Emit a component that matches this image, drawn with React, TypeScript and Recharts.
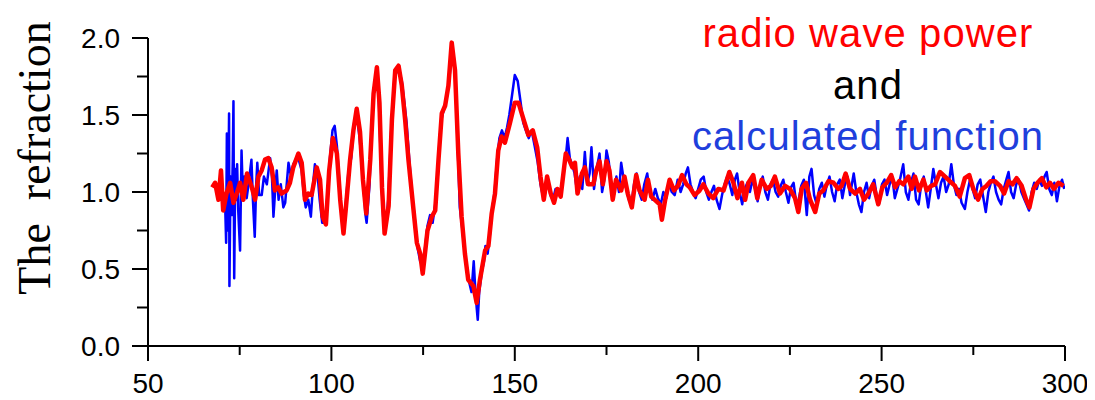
import React from 'react';
import { LineChart, Line, XAxis, YAxis } from 'recharts';

// radio wave power (red)
const redX = [67.5,68.3,69.2,69.9,70.5,71.4,72.4,73.3,74.2,75.1,76.0,77.0,78.3,79.2,80.1,81.0,81.9,82.8,83.7,84.6,85.5,86.4,87.8,88.7,89.6,91.0,91.9,92.8,93.7,94.6,96.0,96.9,97.6,98.5,99.4,100.4,101.5,102.4,103.3,104.0,105.1,106.0,106.9,107.8,108.6,109.5,110.6,111.5,112.4,113.1,113.8,114.5,115.6,116.5,117.4,118.3,119.2,120.1,121.0,122.4,123.3,124.2,124.9,125.6,126.2,127.4,128.3,129.2,130.1,131.0,131.9,132.8,133.7,134.6,135.5,136.4,137.3,138.7,139.6,140.5,141.9,142.8,143.7,144.6,145.5,146.4,147.3,148.7,150.0,151.0,152.4,153.7,154.9,156.1,157.0,157.9,158.8,159.8,160.7,161.6,162.5,163.9,164.8,165.7,166.4,167.1,168.3,169.1,170.0,171.4,172.2,173.1,174.0,175.0,175.8,176.7,177.6,179.0,179.9,180.8,181.9,183.1,184.0,185.4,186.3,187.2,188.1,189.5,190.1,191.0,192.2,193.4,194.5,195.6,196.8,197.7,199.0,200.4,201.4,202.8,204.1,205.5,206.9,208.5,209.6,210.7,211.9,212.8,213.7,215.0,216.1,217.3,218.7,219.8,220.9,222.3,223.7,225.0,226.4,227.3,228.2,229.4,230.5,231.9,233.0,234.1,235.5,236.9,238.2,239.1,240.2,241.4,242.8,244.1,245.2,246.4,247.7,249.1,250.2,251.4,252.6,253.7,254.8,255.9,257.3,258.2,259.1,260.2,261.4,262.3,263.5,264.6,265.9,267.3,268.6,270.0,271.3,272.7,273.9,275.0,276.3,277.5,278.6,279.7,280.9,282.3,283.4,284.6,285.7,286.8,288.2,289.4,290.3,291.4,292.5,293.7,294.9,295.9,297.0,298.2,299.6];
const redY = [1.03,1.06,0.95,1.14,0.88,0.99,1.06,0.93,0.99,1.06,0.95,1.12,1.03,0.95,1.10,1.14,1.21,1.22,1.16,1.01,1.03,0.99,1.01,1.06,1.16,1.25,1.19,0.95,0.99,0.98,1.16,1.08,0.84,0.79,1.14,1.35,1.25,0.95,0.73,0.91,1.21,1.40,1.54,1.39,1.08,0.86,1.21,1.64,1.81,1.58,1.03,0.73,0.91,1.47,1.79,1.82,1.69,1.47,1.21,0.88,0.67,0.60,0.47,0.62,0.75,0.84,0.88,1.21,1.51,1.56,1.69,1.97,1.79,1.25,0.84,0.60,0.43,0.39,0.28,0.43,0.62,0.65,0.86,0.99,1.27,1.36,1.32,1.45,1.58,1.58,1.47,1.37,1.40,1.29,1.10,0.95,1.10,0.99,0.93,1.02,0.97,1.25,1.21,1.16,1.19,0.99,1.12,1.16,1.05,1.05,1.14,1.20,1.05,1.20,1.14,0.95,1.08,1.01,1.10,0.99,0.90,1.11,1.01,0.95,1.08,0.97,0.95,0.92,0.82,0.95,1.08,1.01,1.04,1.11,1.05,1.03,0.98,1.01,1.05,0.99,0.96,1.02,1.01,1.13,1.06,0.96,1.06,0.95,1.06,1.11,0.96,1.08,1.02,1.04,1.10,0.99,1.04,1.02,0.96,0.87,1.02,1.06,0.95,0.87,0.99,1.01,1.07,1.06,1.02,1.04,1.12,1.02,0.99,1.02,0.95,0.99,1.05,0.92,1.03,1.06,1.11,1.03,1.07,1.05,1.10,1.02,1.10,1.01,1.08,1.01,1.04,1.05,1.13,1.10,1.07,1.04,0.97,1.09,1.11,1.02,0.95,1.02,1.04,1.07,1.07,1.04,0.99,1.07,1.05,1.09,1.04,0.95,0.90,1.02,1.06,1.09,1.03,1.06,1.02,1.06,1.04];

// calculated function (blue)
const blueX = [71.0,71.3,71.5,71.8,72.1,72.2,72.5,72.8,73.1,73.3,73.5,73.8,74.0,74.3,74.6,75.1,75.5,75.9,76.3,76.9,77.4,78.2,78.6,79.1,79.5,79.8,80.3,81.0,81.6,82.4,83.3,83.8,84.2,84.7,85.1,85.6,86.2,86.9,87.4,88.3,89.0,89.6,90.5,91.2,91.9,92.5,93.0,93.7,94.4,95.0,95.5,96.2,96.8,97.5,98.3,99.0,99.6,100.3,100.9,101.5,102.2,102.8,103.3,104.0,104.6,105.4,106.2,106.9,107.7,108.2,108.7,109.3,109.6,110.4,111.2,111.8,112.4,113.0,113.6,114.2,114.7,115.5,116.3,117.2,118.3,119.2,119.9,120.5,121.2,122.0,122.6,123.4,124.2,124.9,125.6,126.2,126.9,127.6,128.3,129.0,129.5,130.1,130.8,131.5,132.2,132.8,133.3,133.8,134.5,135.0,135.6,136.3,137.0,137.5,138.2,138.8,139.2,139.6,139.9,140.3,141.0,141.6,142.0,142.6,143.2,143.9,144.5,145.2,145.8,146.5,147.2,147.9,148.5,149.2,150.0,150.8,151.6,152.3,153.0,153.8,154.6,155.4,156.2,157.0,157.6,158.3,159.0,159.7,160.4,161.1,161.8,162.5,163.2,163.8,164.4,165.0,165.6,166.3,167.0,167.7,168.4,169.1,169.7,170.4,170.9,171.6,172.3,173.1,173.8,174.4,175.0,175.6,176.3,177.0,177.7,178.4,179.0,179.7,180.4,181.1,181.8,182.5,183.2,183.9,184.6,185.3,186.1,186.8,187.5,188.3,189.0,189.8,190.5,191.3,192.0,192.8,193.6,194.4,195.2,195.9,196.6,197.2,197.9,198.6,199.3,200.0,200.7,201.5,202.2,202.9,203.6,204.3,205.0,205.8,206.5,207.2,207.9,208.6,209.3,210.0,210.6,211.3,212.0,212.7,213.4,214.1,214.8,215.5,216.2,216.9,217.6,218.3,219.0,219.7,220.4,221.1,221.8,222.5,223.2,223.9,224.6,225.3,226.0,226.7,227.4,228.1,228.8,229.6,230.3,230.9,231.6,232.3,233.0,233.7,234.4,235.1,235.8,236.5,237.2,237.9,238.6,239.3,240.0,240.7,241.4,242.4,243.1,243.8,244.5,245.2,245.9,246.6,247.3,248.0,248.7,249.4,250.1,250.8,251.5,252.2,252.9,253.6,254.3,255.0,255.9,256.6,257.3,258.0,258.7,259.4,260.1,260.8,261.5,262.2,262.7,263.4,264.1,264.8,265.5,266.2,266.9,267.6,268.3,269.0,269.7,270.4,271.1,271.8,272.7,273.4,274.1,274.8,275.5,276.2,276.9,277.6,278.4,279.1,279.8,280.5,281.2,281.9,282.6,283.3,284.0,284.6,285.3,286.0,286.7,287.4,288.1,288.8,289.5,290.2,290.9,291.6,292.3,293.0,293.7,294.4,295.0,295.7,296.4,297.1,297.8,298.5,299.2,299.8];
const blueY = [0.95,0.67,1.38,0.75,1.51,0.39,1.10,0.85,1.20,1.59,0.44,1.15,0.95,1.18,0.88,0.62,1.27,0.95,1.10,0.96,1.05,1.21,0.95,0.71,1.05,1.19,0.98,0.98,1.10,1.05,1.22,1.10,0.84,1.02,1.14,0.95,1.05,0.90,0.93,1.19,1.10,1.18,1.22,1.20,1.14,0.98,0.90,0.95,0.84,1.05,1.18,1.12,0.95,0.80,0.80,1.00,1.22,1.40,1.43,1.30,1.05,0.85,0.76,0.95,1.12,1.22,1.45,1.50,1.35,1.20,1.05,0.85,0.80,1.05,1.55,1.72,1.78,1.55,1.10,0.80,0.75,0.95,1.40,1.75,1.80,1.72,1.58,1.45,1.22,0.98,0.86,0.65,0.55,0.52,0.65,0.78,0.85,0.80,0.92,1.10,1.35,1.48,1.55,1.62,1.75,1.88,1.90,1.72,1.25,0.90,0.78,0.62,0.50,0.42,0.35,0.55,0.38,0.25,0.17,0.35,0.48,0.55,0.65,0.60,0.72,0.90,1.00,1.22,1.35,1.40,1.35,1.42,1.50,1.62,1.76,1.72,1.58,1.45,1.40,1.35,1.40,1.30,1.20,1.05,0.98,1.05,1.08,0.98,0.95,1.02,1.00,0.98,1.12,1.20,1.35,1.22,1.18,1.12,1.00,1.10,1.02,1.26,1.05,1.12,1.29,1.02,1.15,1.25,1.00,1.08,1.27,1.20,1.05,0.98,1.10,1.00,1.19,1.08,1.02,0.95,0.92,1.05,1.12,1.00,0.95,1.05,1.12,1.00,0.95,1.02,0.96,0.92,1.00,0.96,1.06,1.00,0.98,1.08,1.00,1.05,1.12,1.16,1.05,1.00,0.96,1.02,1.08,1.10,1.00,0.95,1.00,1.04,0.95,0.89,0.98,1.05,1.10,1.05,0.98,1.08,1.12,1.00,0.92,1.02,1.06,1.00,1.08,1.02,0.94,1.05,1.10,1.00,0.95,1.05,1.08,1.00,0.97,1.04,1.08,1.00,0.93,1.03,1.06,0.93,0.95,1.04,1.08,0.85,1.10,1.15,0.98,0.92,1.02,1.06,0.97,1.05,1.10,1.00,0.94,1.05,1.08,0.96,1.05,1.10,0.98,1.12,1.00,0.92,0.87,1.00,1.06,0.96,1.04,1.08,0.97,0.93,1.05,1.08,0.98,1.05,1.10,0.96,1.02,1.08,1.18,1.00,0.95,1.06,1.12,0.95,0.92,1.05,1.10,0.98,0.90,1.02,1.15,1.05,0.96,1.06,1.10,1.00,1.05,1.18,1.05,0.98,1.02,0.93,0.89,1.00,1.08,1.02,0.96,1.05,1.08,0.98,0.87,1.00,1.06,1.10,1.00,0.95,0.92,1.02,1.08,1.13,1.00,0.96,1.05,1.08,1.00,0.96,0.92,0.88,1.00,1.06,1.02,1.08,1.04,1.10,1.13,1.02,0.98,1.06,0.94,1.04,1.08,1.02];

const xTicks = [50, 75, 100, 125, 150, 175, 200, 225, 250, 275, 300];
const xMajor = [50, 100, 150, 200, 250, 300];
const yTicks = [0, 0.25, 0.5, 0.75, 1.0, 1.25, 1.5, 1.75, 2.0];
const yMajor = [0, 0.5, 1.0, 1.5, 2.0];

const legendLines = ['radio wave power', 'and', 'calculated function'];
const legendColors = ['#ff0000', '#000000', '#1f3fdc'];
const yLabel = 'The\u00a0\u00a0refraction';

const redData = redX.map((x, i) => ({ x, y: redY[i] }));
const blueData = blueX.map((x, i) => ({ x, y: blueY[i] }));

const sans = 'Arial, "Liberation Sans", Helvetica, sans-serif';
const serif = '"Times New Roman", "Liberation Serif", serif';

const XTick = (props: any) => {
  const { x, y, payload } = props;
  const major = xMajor.includes(payload.value);
  return (
    <g>
      <line x1={x} x2={x} y1={y} y2={y + (major ? 15 : 9)} stroke="#000" strokeWidth={2} />
      {major && (
        <text x={x} y={y + 47} textAnchor="middle" fontSize={28} fontFamily={sans} fill="#000">
          {payload.value}
        </text>
      )}
    </g>
  );
};

const YTick = (props: any) => {
  const { x, y, payload } = props;
  const major = yMajor.includes(payload.value);
  return (
    <g>
      <line x1={x - (major ? 16 : 11)} x2={x} y1={y} y2={y} stroke="#000" strokeWidth={2} />
      {major && (
        <text x={x - 28} y={y + 10} textAnchor="end" fontSize={28} fontFamily={sans} fill="#000">
          {Number(payload.value).toFixed(1)}
        </text>
      )}
    </g>
  );
};

export default function App() {
  return (
    <LineChart
      width={1087}
      height={392}
      margin={{ top: 30, right: 30, bottom: 0, left: 0 }}
      style={{ background: '#fff' }}
    >
      <XAxis
        dataKey="x"
        type="number"
        domain={[50, 300]}
        ticks={xTicks}
        interval={0}
        allowDataOverflow
        height={54}
        tickSize={0}
        tickMargin={0}
        tick={<XTick />}
        axisLine={{ stroke: '#000', strokeWidth: 2 }}
        tickLine={false}
      />
      <YAxis
        type="number"
        domain={[0, 2]}
        ticks={yTicks}
        interval={0}
        allowDataOverflow
        width={140}
        tickSize={0}
        tickMargin={0}
        tick={<YTick />}
        axisLine={{ stroke: '#000', strokeWidth: 2 }}
        tickLine={false}
      />
      <Line
        data={blueData}
        dataKey="y"
        type="linear"
        stroke="#0000ff"
        strokeWidth={2.5}
        dot={false}
        isAnimationActive={false}
        strokeLinejoin="round"
      />
      <Line
        data={redData}
        dataKey="y"
        type="linear"
        stroke="#ff0000"
        strokeWidth={4.5}
        dot={false}
        isAnimationActive={false}
        strokeLinejoin="round"
      />
      <text
        x={42}
        y={150}
        transform="rotate(-90 42 150)"
        textAnchor="middle"
        fontSize={46}
        fontFamily={serif}
        fill="#000"
      >
        {yLabel}
      </text>
      {legendLines.map((t, i) => (
        <text
          key={t}
          x={860}
          y={[39, 91, 142][i]}
          textAnchor="middle"
          fontSize={40}
          letterSpacing={1.1}
          fontFamily={sans}
          fill={legendColors[i]}
        >
          {t}
        </text>
      ))}
    </LineChart>
  );
}
